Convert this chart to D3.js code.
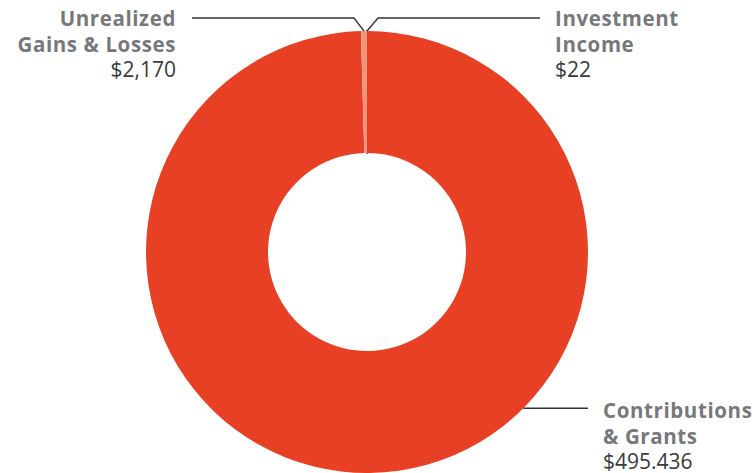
<!DOCTYPE html>
<html lang="en">
<head>
  <meta charset="UTF-8">
  <title>donut</title>
  <script src="https://cdn.jsdelivr.net/npm/d3@7"></script>
  <style>
    html, body { margin: 0; padding: 0; background: #fff; }
    svg { display: block; }
  </style>
</head>
<body>
</body>
<script>
  const categories = ['Investment Income', 'Contributions & Grants', 'Unrealized Gains & Losses']
  const values = [22, 495436, 2170]
  const valueLabels = ['$22', '$495.436', '$2,170']
  const sliceColors = ['#2b2b2b', '#e84025', '#f0957b']

  drawChart()

  function drawChart() {
    const width = 754
    const height = 473
    const cx = 367
    const cy = 252
    const outerR = 221
    const innerR = 99
    const titleColor = '#77787b'
    const valueColor = '#3a3a3a'

    const svg = d3.select('body').append('svg').attr('width', width).attr('height', height)
    const g = svg.append('g').attr('transform', `translate(${cx},${cy})`)

    const data = categories.map((c, i) => ({ name: c, value: values[i], label: valueLabels[i], color: sliceColors[i] }))

    const pie = d3.pie().sort(null).value(d => d.value)
    const arc = d3.arc().innerRadius(innerR).outerRadius(outerR)
    const arcs = pie(data)

    g.selectAll('path')
      .data(arcs)
      .join('path')
      .attr('d', arc)
      .attr('fill', d => d.data.color)
      .attr('stroke', d => d.data.value < 100 ? d.data.color : 'none')
      .attr('stroke-width', 1.6)

    // label layout: angle on the ring, elbow offset, line end, text side
    const labelCfg = [
      { lines: ['Investment', 'Income'], angle: null, elbow: [11, -13], endX: 540, textX: 555, textY: 26, anchor: 'start' },
      { lines: ['Contributions', '& Grants'], angle: Math.PI * 0.75, elbow: null, endX: 588, textX: 603, textY: 418, anchor: 'start' },
      { lines: ['Unrealized', 'Gains & Losses'], angle: null, elbow: [-10, -13], endX: 192, textX: 176, textY: 26, anchor: 'end' }
    ]

    const pt = (a, r) => [cx + r * Math.sin(a), cy - r * Math.cos(a)]

    arcs.forEach((d, i) => {
      const cfg = labelCfg[i]
      const a = cfg.angle != null ? cfg.angle : (d.startAngle + d.endAngle) / 2
      const p0 = pt(a, outerR)
      const pts = [p0]
      if (cfg.elbow) {
        const p1 = [p0[0] + cfg.elbow[0], p0[1] + cfg.elbow[1]]
        pts.push(p1, [cfg.endX, p1[1]])
      } else {
        pts.push([cfg.endX, p0[1]])
      }
      svg.append('path')
        .attr('d', d3.line()(pts))
        .attr('fill', 'none')
        .attr('stroke', '#333')
        .attr('stroke-width', 1.3)

      const t = svg.append('text')
        .attr('x', cfg.textX)
        .attr('y', cfg.textY)
        .attr('text-anchor', cfg.anchor)
        .style('font-family', '"Open Sans", sans-serif')
        .style('font-size', '20.5px')
      cfg.lines.forEach((ln, j) => {
        t.append('tspan')
          .attr('x', cfg.textX)
          .attr('dy', j === 0 ? 0 : 25.5)
          .attr('font-weight', 700)
          .attr('fill', titleColor)
          .style('letter-spacing', '0.6px')
          .text(ln)
      })
      t.append('tspan')
        .attr('x', cfg.textX)
        .attr('dy', 25)
        .attr('font-weight', 400)
        .attr('fill', valueColor)
        .style('font-size', '21px')
        .text(d.data.label)
    })
  }
</script>
</html>
